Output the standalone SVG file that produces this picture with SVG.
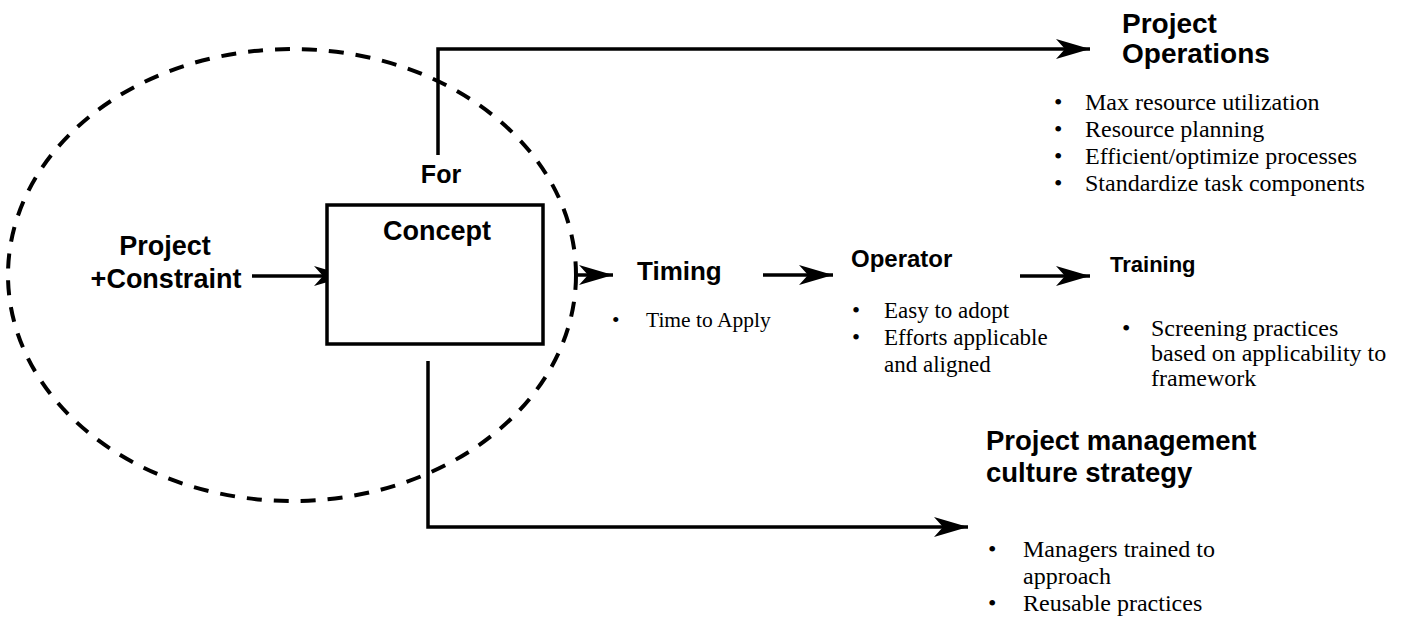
<svg xmlns="http://www.w3.org/2000/svg" width="1411" height="620" viewBox="0 0 1411 620">
  <style>
    .head { font-family: "Liberation Sans", Arial, Helvetica, sans-serif; font-weight: bold; fill: #000; }
    .body { font-family: "Liberation Serif", "Times New Roman", serif; fill: #000; }
    .line { fill: none; stroke: #000; stroke-width: 3.5; }
    .dash { fill: none; stroke: #000; stroke-width: 4; stroke-dasharray: 15 12; }
    .box { fill: #fff; stroke: #000; stroke-width: 3.5; }
  </style>
  <defs>
    <marker id="arrow" markerUnits="userSpaceOnUse" markerWidth="40" markerHeight="24" viewBox="-36 -12 40 24" refX="0" refY="0" orient="auto">
      <path d="M0,0 L-34,-10 L-25,0 L-34,10 Z" fill="#000"/>
    </marker>
  </defs>

  <!-- scope boundary -->
  <g id="scope">
    <ellipse class="dash" cx="292" cy="275" rx="284" ry="226"/>
  </g>

  <!-- connectors -->
  <g id="connectors">
    <path class="line" d="M438,155 V49 H1090" marker-end="url(#arrow)"/>
    <path class="line" d="M428,361 V527 H968" marker-end="url(#arrow)"/>
    <path class="line" d="M252,276 H348" marker-end="url(#arrow)"/>
    <path class="line" d="M578,275 H613" marker-end="url(#arrow)"/>
    <path class="line" d="M763,275 H833" marker-end="url(#arrow)"/>
    <path class="line" d="M1020,276 H1090" marker-end="url(#arrow)"/>
  </g>

  <g id="project-constraint">
    <text class="head" font-size="27" x="165" y="255" text-anchor="middle">Project</text>
    <text class="head" font-size="27" x="166" y="288" text-anchor="middle">+Constraint</text>
  </g>

  <g id="concept">
    <rect class="box" x="327" y="205" width="216" height="139"/>
    <text class="head" font-size="27" x="437" y="240" text-anchor="middle">Concept</text>
  </g>

  <g id="for-label">
    <text class="head" font-size="25" x="441" y="183" text-anchor="middle">For</text>
  </g>

  <g id="timing">
    <text class="head" font-size="26" x="637" y="280">Timing</text>
    <text class="body" font-size="21.5" x="612" y="327">•</text>
    <text class="body" font-size="21.5" x="646" y="327">Time to Apply</text>
  </g>

  <g id="operator">
    <text class="head" font-size="24" x="851" y="267">Operator</text>
    <text class="body" font-size="23">
      <tspan x="852" y="318">•</tspan><tspan x="884" y="318">Easy to adopt</tspan>
      <tspan x="852" y="345">•</tspan><tspan x="884" y="345">Efforts applicable</tspan>
      <tspan x="884" y="372">and aligned</tspan>
    </text>
  </g>

  <g id="training">
    <text class="head" font-size="22" x="1110" y="272">Training</text>
    <text class="body" font-size="24">
      <tspan x="1122" y="336">•</tspan><tspan x="1151" y="336">Screening practices</tspan>
      <tspan x="1151" y="361">based on applicability to</tspan>
      <tspan x="1151" y="386">framework</tspan>
    </text>
  </g>

  <g id="project-operations">
    <text class="head" font-size="28">
      <tspan x="1122" y="33">Project</tspan>
      <tspan x="1122" y="63">Operations</tspan>
    </text>
    <text class="body" font-size="24">
      <tspan x="1054" y="110">•</tspan><tspan x="1085" y="110">Max resource utilization</tspan>
      <tspan x="1054" y="137">•</tspan><tspan x="1085" y="137">Resource planning</tspan>
      <tspan x="1054" y="164">•</tspan><tspan x="1085" y="164">Efficient/optimize processes</tspan>
      <tspan x="1054" y="191">•</tspan><tspan x="1085" y="191">Standardize task components</tspan>
    </text>
  </g>

  <g id="culture-strategy">
    <text class="head" font-size="27.5">
      <tspan x="986" y="450">Project management</tspan>
      <tspan x="986" y="482">culture strategy</tspan>
    </text>
    <text class="body" font-size="24">
      <tspan x="988" y="557">•</tspan><tspan x="1023" y="557">Managers trained to</tspan>
      <tspan x="1023" y="584">approach</tspan>
      <tspan x="988" y="611">•</tspan><tspan x="1023" y="611">Reusable practices</tspan>
    </text>
  </g>
</svg>
